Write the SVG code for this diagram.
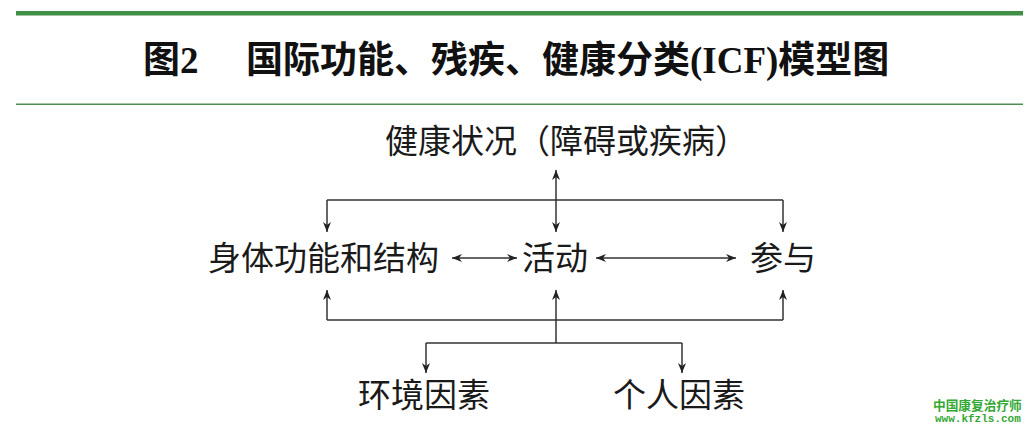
<svg xmlns="http://www.w3.org/2000/svg" width="1032" height="431" viewBox="0 0 1032 431">
<style>
.lbl{font-family:"Noto Sans CJK SC","Noto Sans CJK JP",sans-serif;font-size:33px;fill:#1a1a1a}
.ttl{font-family:"Liberation Serif","Noto Sans CJK SC",serif;font-size:37px;font-weight:bold;fill:#111}
.ln{stroke:#333;stroke-width:1.5;fill:none}
.wm{fill:#33a833;font-weight:bold}
</style>
<defs>
<marker id="ah" viewBox="0 0 10 10" refX="10" refY="5" markerWidth="10" markerHeight="10" markerUnits="userSpaceOnUse" orient="auto-start-reverse">
<path d="M0,1 L10,5 L0,9 L3,5 Z" fill="#222"/>
</marker>
</defs>
<rect width="1032" height="431" fill="#fff"/>
<g id="header">
<rect x="16" y="11" width="1007" height="4.5" fill="#3f8f45"/>
<rect x="16" y="103.5" width="1007" height="1.5" fill="#4d8f52"/>
<text class="ttl" x="143" y="73">图2</text>
<text class="ttl" x="246" y="73">国际功能、残疾、健康分类(ICF)模型图</text>
</g>
<g id="connectors">
<line class="ln" x1="556" y1="232" x2="556" y2="170" marker-start="url(#ah)" marker-end="url(#ah)"/>
<line class="ln" x1="327" y1="200" x2="783" y2="200"/>
<line class="ln" x1="327" y1="200" x2="327" y2="232" marker-end="url(#ah)"/>
<line class="ln" x1="783" y1="200" x2="783" y2="232" marker-end="url(#ah)"/>
<line class="ln" x1="452" y1="258" x2="517" y2="258" marker-start="url(#ah)" marker-end="url(#ah)"/>
<line class="ln" x1="596" y1="258" x2="736" y2="258" marker-start="url(#ah)" marker-end="url(#ah)"/>
<line class="ln" x1="327" y1="320" x2="783" y2="320"/>
<line class="ln" x1="327" y1="320" x2="327" y2="290" marker-end="url(#ah)"/>
<line class="ln" x1="783" y1="320" x2="783" y2="290" marker-end="url(#ah)"/>
<line class="ln" x1="556" y1="343" x2="556" y2="290" marker-end="url(#ah)"/>
<line class="ln" x1="426" y1="343" x2="682" y2="343"/>
<line class="ln" x1="426" y1="343" x2="426" y2="373" marker-end="url(#ah)"/>
<line class="ln" x1="682" y1="343" x2="682" y2="373" marker-end="url(#ah)"/>
</g>
<g id="health"><text class="lbl" x="385" y="153">健康状况（障碍或疾病）</text></g>
<g id="body"><text class="lbl" x="208" y="270">身体功能和结构</text></g>
<g id="activity"><text class="lbl" x="522" y="270">活动</text></g>
<g id="participation"><text class="lbl" x="750" y="270">参与</text></g>
<g id="env"><text class="lbl" x="358" y="407">环境因素</text></g>
<g id="personal"><text class="lbl" x="613" y="407">个人因素</text></g>
<g id="watermark">
<text class="wm" x="933" y="410" font-family="Noto Sans CJK SC, sans-serif" font-size="12.7">中国康复治疗师</text>
<text class="wm" x="935" y="422" font-family="Liberation Mono, monospace" font-size="11">www.kfzls.com</text>
</g>
</svg>
